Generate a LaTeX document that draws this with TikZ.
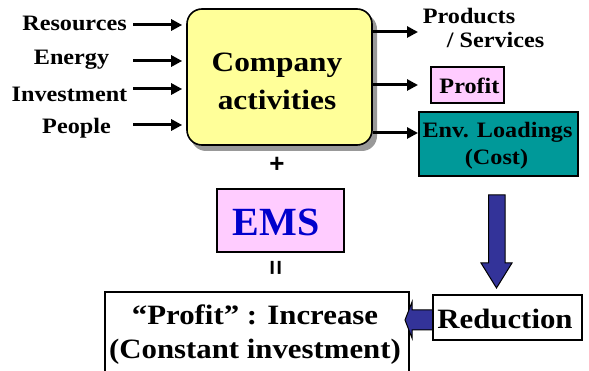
\documentclass[tikz,border=0pt]{standalone}
\usepackage{fontspec}
\usepackage{graphicx}
\setmainfont{Liberation Serif}
\newfontfamily\sansbold{Liberation Sans}
\usetikzlibrary{arrows.meta,calc}
\definecolor{boxyellow}{HTML}{FFFF99}
\definecolor{boxpink}{HTML}{FFCCFF}
\definecolor{envteal}{HTML}{009999}
\definecolor{arrowblue}{HTML}{333399}
\definecolor{emsblue}{HTML}{0000CC}
\definecolor{shadowgray}{HTML}{999999}
\newcommand{\sx}[1]{\scalebox{1.1}[1]{#1}}
\begin{document}
\begin{tikzpicture}[x=1pt,y=-1pt,
  lbl/.style={font=\fontsize{22}{24}\selectfont\bfseries, inner sep=0pt, anchor=base},
  bigtxt/.style={font=\fontsize{28}{32}\selectfont\bfseries, inner sep=0pt, anchor=base},
  symb/.style={font=\fontsize{26}{28}\selectfont\sansbold\bfseries, inner sep=0pt},
  inarrow/.style={line width=3pt, -{Triangle[length=11pt,width=11pt]}},
  boxline/.style={draw=black, line width=1.6pt},
  blockarrow/.style={draw=black, line width=1pt, fill=arrowblue, line join=miter},
]
\useasboundingbox (0,0) rectangle (589,371);
\clip (0,0) rectangle (589,371);
\fill[white] (0,0) rectangle (589,371);

% Company box with shadow
\fill[shadowgray, rounded corners=15pt] (191,14) rectangle (377,151);
\node[boxline, fill=boxyellow, rounded corners=15pt, minimum width=185pt, minimum height=136pt, inner sep=0pt] (comp) at (279.5,77) {};
\node[font=\fontsize{28}{38}\selectfont\bfseries, inner sep=0pt, anchor=base] (c1) at (277,72) {\scalebox{1.12}[1]{Company}};
\node[font=\fontsize{28}{38}\selectfont\bfseries, inner sep=0pt, anchor=base] (c2) at (277,110) {\scalebox{1.12}[1]{activities}};

% Input labels
\node[lbl] (res) at (74.5,31) {\sx{Resources}};
\node[lbl] (ene) at (71.5,65) {\sx{Energy}};
\node[lbl] (inv) at (69.5,102) {\sx{Investment}};
\node[lbl] (peo) at (76.5,134) {\sx{People}};

\coordinate (i1) at (133,25);
\coordinate (i2) at (133,61);
\coordinate (i3) at (133,89);
\coordinate (i4) at (133,125);
\foreach \c in {i1,i2,i3,i4}
  \draw[inarrow, shorten >=4pt] (\c) -- (\c -| comp.west);

% Outputs
\node[lbl] (prod) at (469,24) {\sx{Products}};
\node[lbl] (serv) at (495.5,48) {\sx{/ Services}};
\node[boxline, line width=1.2pt, fill=boxpink, minimum width=73pt, minimum height=36pt, inner sep=0pt] (profit) at (467.5,85) {};
\node[lbl] (proftxt) at (469.5,94) {\sx{Profit}};
\node[boxline, line width=1.2pt, fill=envteal, minimum width=159pt, minimum height=64pt, inner sep=0pt] (env) at (498.5,144) {};
\node[lbl] (env1) at (497.5,138) {\sx{Env. Loadings}};
\node[lbl] (env2) at (496.5,165) {\sx{(Cost)}};

\coordinate (o1) at (418,32);
\coordinate (o2) at (418,85);
\coordinate (o3) at (418,133);
\foreach \c in {o1,o2,o3}
  \draw[inarrow] (\c -| comp.east) -- (\c);

% Plus, EMS, equals
\node[symb] (plus) at (277,165) {+};
\node[boxline, fill=boxpink, minimum width=127pt, minimum height=63pt, inner sep=0pt] (ems) at (280.5,220.5) {};
\node[font=\fontsize{40}{44}\selectfont\bfseries, text=emsblue, inner sep=0pt, anchor=base] (emstxt) at (276,236) {EMS};
\node[symb, rotate=90] (eq) at (277.5,268) {=};

% Bottom boxes
\node[boxline, fill=white, minimum width=304pt, minimum height=88pt, inner sep=0pt] (result) at (257,336) {};
\node[bigtxt] (r1) at (255,324) {\sx{“Profit” : Increase}};
\node[bigtxt] (r2) at (255,359) {\sx{(Constant investment)}};

\draw[blockarrow] (434,310) -- (412,310) -- (412,302) -- (405,320) -- (412,338) -- (412,330) -- (434,330) -- cycle;
\node[boxline, fill=white, minimum width=149pt, minimum height=45pt, inner sep=0pt] (red) at (507.5,317.5) {};
\node[bigtxt] (redtxt) at (505,329) {\sx{Reduction}};

% Big down arrow
\draw[blockarrow] (488.5,195) -- (505,195) -- (505,263) -- (512,263) -- (496.5,288) -- (481,263) -- (488.5,263) -- cycle;
\end{tikzpicture}
\end{document}
